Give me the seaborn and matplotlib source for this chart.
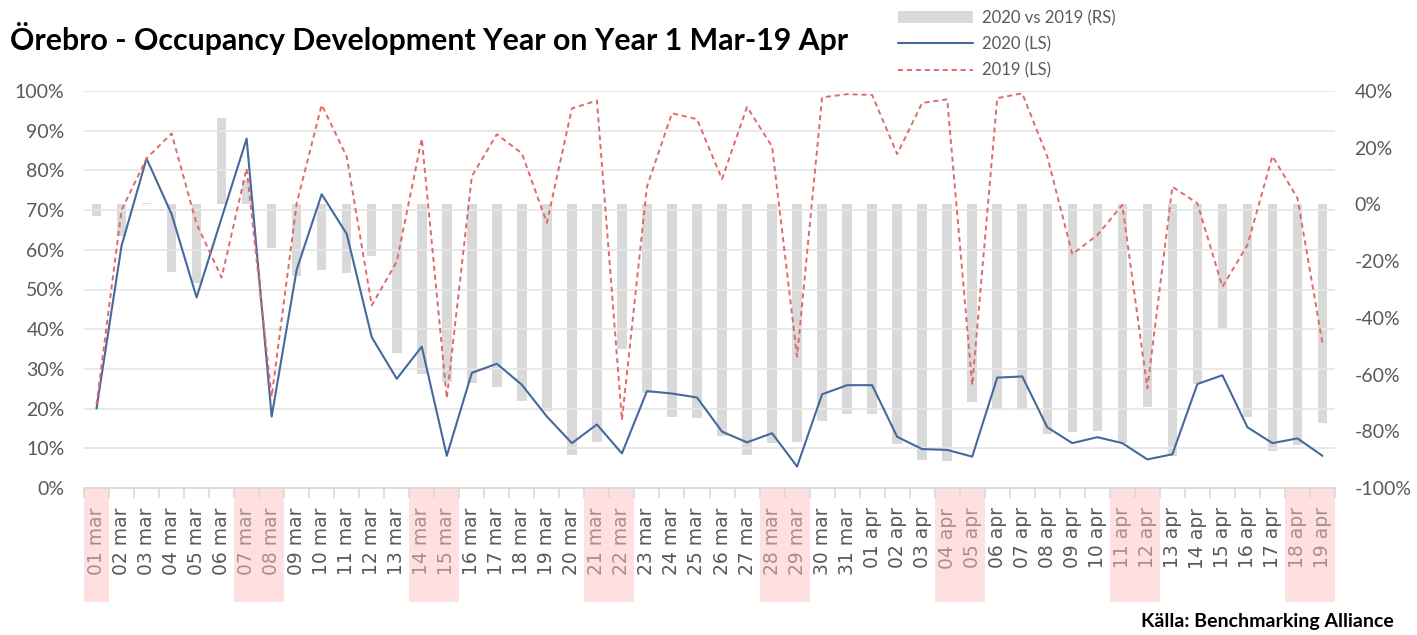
import numpy as np
import pandas as pd
import matplotlib
matplotlib.use("Agg")
import matplotlib.pyplot as plt
import matplotlib.transforms as mtransforms
from matplotlib.patches import Rectangle
from matplotlib.ticker import PercentFormatter, MultipleLocator
import seaborn as sns

# ---------------- data ----------------
days = ["01 mar", "02 mar", "03 mar", "04 mar", "05 mar", "06 mar", "07 mar", "08 mar",
        "09 mar", "10 mar", "11 mar", "12 mar", "13 mar", "14 mar", "15 mar", "16 mar",
        "17 mar", "18 mar", "19 mar", "20 mar", "21 mar", "22 mar", "23 mar", "24 mar",
        "25 mar", "26 mar", "27 mar", "28 mar", "29 mar", "30 mar", "31 mar",
        "01 apr", "02 apr", "03 apr", "04 apr", "05 apr", "06 apr", "07 apr", "08 apr",
        "09 apr", "10 apr", "11 apr", "12 apr", "13 apr", "14 apr", "15 apr", "16 apr",
        "17 apr", "18 apr", "19 apr"]

weekend_days = ["01 mar", "07 mar", "08 mar", "14 mar", "15 mar", "21 mar", "22 mar",
                "28 mar", "29 mar", "04 apr", "05 apr", "11 apr", "12 apr",
                "18 apr", "19 apr"]

# occupancy 2020 (%), left scale
occ_2020 = [20, 61, 83, 69, 48, 68, 88, 18, 55, 74, 64, 38, 27.5, 35.6, 8.1, 29,
            31.3, 26, 18, 11.3, 16, 8.7, 24.4, 23.8, 22.8, 14.2, 11.5, 13.8, 5.4, 23.6, 25.9,
            25.9, 12.9, 9.8, 9.6, 7.9, 27.8, 28.1, 15.3, 11.3, 12.8, 11.3, 7.2, 8.5, 26.2,
            28.4, 15.3, 11.3, 12.5, 8.1]

# occupancy 2019 (%), left scale
occ_2019 = [21, 70, 83, 89.3, 66.5, 53, 80.5, 23, 71.7, 96.5, 83.5, 46, 57, 88, 22.6, 78.5,
            89.1, 84.3, 66.8, 95.6, 97.6, 17.1, 75.9, 94.4, 92.9, 77.8, 96, 86, 33.1, 98.4, 99.2,
            99, 84.1, 97, 97.9, 25.9, 98.2, 99.4, 83.5, 58.9, 63.7, 71.3, 25.1, 75.9, 71.7,
            50.7, 61.2, 83.6, 73, 36.4]

# 2020 vs 2019 (%), right scale
change = [-4.1, -11.1, 0.4, -23.7, -27.8, 30.4, 8.6, -15.3, -25.1, -23.2, -24.2, -18.2,
          -52.5, -59.9, -62.7, -63.1, -64.5, -69.2, -72.8, -88.4, -83.7, -51.1, -66.5, -74.9,
          -75.4, -81.7, -88.4, -84, -83.7, -76.2, -73.9, -73.9, -84.6, -90.1, -90.5, -69.8,
          -72.1, -72.1, -81, -80.4, -79.9, -84.2, -71.5, -88.6, -63.4, -43.7, -74.9, -86.9,
          -84.8, -77]

title = "Örebro - Occupancy Development Year on Year 1 Mar-19 Apr"
source = "Källa: Benchmarking Alliance"
lbl_bar = "2020 vs 2019 (RS)"
lbl_2020 = "2020 (LS)"
lbl_2019 = "2019 (LS)"

# ---------------- style ----------------
sns.set_theme(style="white")
plt.rcParams["font.family"] = ["Lato", "DejaVu Sans"]
plt.rcParams["axes.unicode_minus"] = False

TXT = "#595959"
GRID = "#e6e6e6"
BAR = "#d9d9d9"
BLUE = "#45699c"
RED = "#e06a6a"
PINK = "#ffe0e0"

W, H = 1417, 635
fig = plt.figure(figsize=(W / 100, H / 100), dpi=100)
fig.patch.set_facecolor("white")

x0, x1, y_top, y_bot = 84, 1335, 91, 488
ax = fig.add_axes([x0 / W, 1 - y_bot / H, (x1 - x0) / W, (y_bot - y_top) / H])
axr = ax.twinx()
ax.set_zorder(axr.get_zorder() + 1)
ax.patch.set_visible(False)

df = pd.DataFrame({"day": days, "occ2020": occ_2020, "occ2019": occ_2019, "change": change})

# bars on right axis (drawn underneath)
sns.barplot(data=df, x="day", y="change", order=days, color=BAR, saturation=1,
            width=0.38, ax=axr, linewidth=0)

# lines on left axis
sns.lineplot(data=df, x="day", y="occ2020", sort=False, color=BLUE, lw=1.5, ax=ax)
sns.lineplot(data=df, x="day", y="occ2019", sort=False, color=RED, lw=1.4, ax=ax)
line2020, line2019 = ax.lines[0], ax.lines[1]
line2019.set_linestyle((0, (2.6, 2.0)))

n = len(days)
ax.set_xlim(-0.5, n - 0.5)
ax.set_ylim(0, 100)
axr.set_ylim(-100, 40)

ax.yaxis.set_major_locator(MultipleLocator(10))
ax.yaxis.set_major_formatter(PercentFormatter(100, decimals=0))
axr.yaxis.set_major_locator(MultipleLocator(20))
axr.yaxis.set_major_formatter(PercentFormatter(100, decimals=0))

ax.set_xticks(range(n))
ax.set_xticklabels(days, rotation=90, family="DejaVu Sans", fontsize=13.5, color=TXT)
ax.set_xticks(np.arange(-0.5, n, 1), minor=True)
ax.tick_params(axis="x", which="major", length=0, pad=14)
ax.tick_params(axis="x", which="minor", length=7, width=1.2, color=BAR, bottom=True)

ax.tick_params(axis="y", length=0, pad=14, labelsize=14, labelcolor=TXT)
axr.tick_params(axis="y", length=0, pad=14, labelsize=14, labelcolor=TXT)

ax.grid(axis="y", color=GRID, lw=1.3)
ax.grid(axis="x", visible=False)
axr.grid(False)
ax.set_axisbelow(True)
for a in (ax, axr):
    a.set_xlabel("")
    a.set_ylabel("")
    for s in a.spines.values():
        s.set_visible(False)
ax.spines["bottom"].set_visible(True)
ax.spines["bottom"].set_color(BAR)
ax.spines["bottom"].set_linewidth(1.3)

# weekend highlight under tick labels
trans = mtransforms.blended_transform_factory(ax.transData, ax.transAxes)
pink_h = (602 - y_bot) / (y_bot - y_top)
for d in weekend_days:
    p = days.index(d)
    ax.add_patch(Rectangle((p - 0.5, -pink_h), 1, pink_h, transform=trans,
                           facecolor=PINK, edgecolor="none", clip_on=False, zorder=0))
for lab in ax.get_xticklabels():
    if lab.get_text() in weekend_days:
        lab.set_color("#a88e8e")

# title / source
fig.text(10 / W, 1 - 50 / H, title, fontsize=21.8, fontweight="bold", color="black",
         va="baseline", ha="left")
fig.text(1141 / W, 1 - 627 / H, source, fontsize=14, fontweight="bold", color="black",
         va="baseline", ha="left")

# legend
bar_handle = axr.patches[0]
leg = fig.legend([bar_handle, line2020, line2019], [lbl_bar, lbl_2020, lbl_2019],
                 loc="upper left", bbox_to_anchor=(898 / W, 1 - 10 / H),
                 frameon=False, fontsize=12, handlelength=4.5, handletextpad=0.55,
                 labelspacing=0.6, borderpad=0, borderaxespad=0)
for t in leg.get_texts():
    t.set_color(TXT)

fig.savefig("out.png", dpi=100, facecolor="white")
